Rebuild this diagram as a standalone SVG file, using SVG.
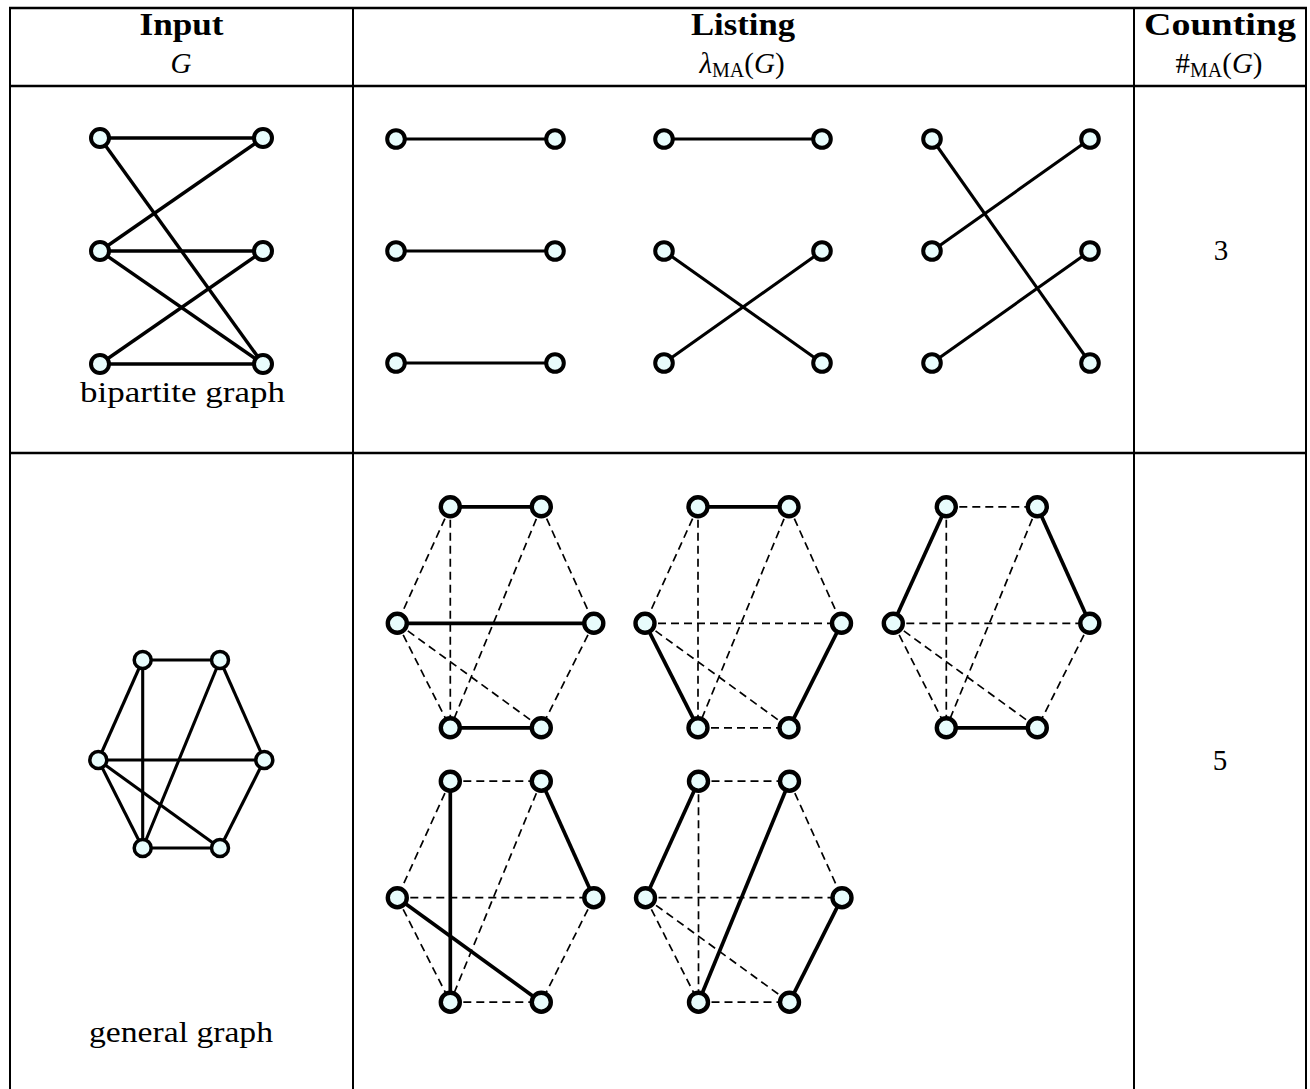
<svg xmlns="http://www.w3.org/2000/svg" width="1310" height="1089" viewBox="0 0 1310 1089">
  <style>
    .rule { stroke: #000; stroke-width: 2; }
    .hrule { stroke: #000; stroke-width: 2.6; }
    .hd { font-family: "Liberation Serif", "Times New Roman", serif; font-size: 31px; font-weight: bold; fill: #000; }
    .tx { font-family: "Liberation Serif", "Times New Roman", serif; font-size: 29px; fill: #000; }
    .it { font-style: italic; }
    .sub { font-size: 20px; font-style: normal; }
    .node { fill: #e8fcfc; stroke: #000; }
    .bn { stroke-width: 4; }
    .ln { stroke-width: 4; }
    .hn { stroke-width: 3.5; }
    .xn { stroke-width: 4.4; }
    .e { stroke: #000; fill: none; stroke-linecap: butt; }
    .eb { stroke-width: 3.4; }
    .el { stroke-width: 3.1; }
    .eh { stroke-width: 3.1; }
    .es { stroke-width: 3.7; }
    .d { stroke: #000; stroke-width: 1.7; stroke-dasharray: 8 5; fill: none; }
  </style>

  <!-- table frame -->
  <g id="table">
    <line class="hrule" x1="9" y1="8" x2="1307" y2="8"/>
    <line class="hrule" x1="9" y1="86" x2="1307" y2="86"/>
    <line class="hrule" x1="9" y1="453" x2="1307" y2="453" stroke-width="3"/>
    <line class="rule" x1="10" y1="7" x2="10" y2="1089"/>
    <line class="rule" x1="353" y1="7" x2="353" y2="1089"/>
    <line class="rule" x1="1134" y1="7" x2="1134" y2="1089"/>
    <line class="rule" x1="1306" y1="7" x2="1306" y2="1089"/>
  </g>

  <!-- column headers -->
  <g id="headers">
    <text class="hd" x="181.5" y="35" text-anchor="middle" textLength="84" lengthAdjust="spacingAndGlyphs">Input</text>
    <text class="tx it" x="181" y="73" text-anchor="middle">G</text>
    <text class="hd" x="743" y="35" text-anchor="middle" textLength="104" lengthAdjust="spacingAndGlyphs">Listing</text>
    <text class="tx" x="742" y="73" text-anchor="middle"><tspan class="it">λ</tspan><tspan class="sub" dy="4">MA</tspan><tspan dy="-4">(</tspan><tspan class="it">G</tspan>)</text>
    <text class="hd" x="1220" y="35" text-anchor="middle" textLength="152" lengthAdjust="spacingAndGlyphs">Counting</text>
    <text class="tx" x="1219" y="73" text-anchor="middle">#<tspan class="sub" dy="4">MA</tspan><tspan dy="-4">(</tspan><tspan class="it">G</tspan>)</text>
  </g>

  <!-- row 1: bipartite input graph -->
  <g id="bipartite-input">
    <g id="bipartite-input-edges">
      <line class="e eb" x1="100" y1="138" x2="263" y2="138"/>
      <line class="e eb" x1="100" y1="138" x2="263" y2="364"/>
      <line class="e eb" x1="100" y1="251" x2="263" y2="138"/>
      <line class="e eb" x1="100" y1="251" x2="263" y2="251"/>
      <line class="e eb" x1="100" y1="251" x2="263" y2="364"/>
      <line class="e eb" x1="100" y1="364" x2="263" y2="251"/>
      <line class="e eb" x1="100" y1="364" x2="263" y2="364"/>
    </g>
    <g id="bi-l1"><circle class="node bn" cx="100" cy="138" r="9"/></g>
    <g id="bi-l2"><circle class="node bn" cx="100" cy="251" r="9"/></g>
    <g id="bi-l3"><circle class="node bn" cx="100" cy="364" r="9"/></g>
    <g id="bi-r1"><circle class="node bn" cx="263" cy="138" r="9"/></g>
    <g id="bi-r2"><circle class="node bn" cx="263" cy="251" r="9"/></g>
    <g id="bi-r3"><circle class="node bn" cx="263" cy="364" r="9"/></g>
    <text class="tx" x="182.5" y="402" text-anchor="middle" textLength="205" lengthAdjust="spacingAndGlyphs">bipartite graph</text>
  </g>

  <!-- row 1: perfect matchings of the bipartite graph -->
  <g id="bm1">
    <g id="bm1-edges">
      <line class="e el" x1="396" y1="139" x2="555" y2="139"/>
      <line class="e el" x1="396" y1="251" x2="555" y2="251"/>
      <line class="e el" x1="396" y1="363" x2="555" y2="363"/>
    </g>
    <g id="bm1-l1"><circle class="node ln" cx="396" cy="139" r="8.8"/></g>
    <g id="bm1-l2"><circle class="node ln" cx="396" cy="251" r="8.8"/></g>
    <g id="bm1-l3"><circle class="node ln" cx="396" cy="363" r="8.8"/></g>
    <g id="bm1-r1"><circle class="node ln" cx="555" cy="139" r="8.8"/></g>
    <g id="bm1-r2"><circle class="node ln" cx="555" cy="251" r="8.8"/></g>
    <g id="bm1-r3"><circle class="node ln" cx="555" cy="363" r="8.8"/></g>
  </g>
  <g id="bm2">
    <g id="bm2-edges">
      <line class="e el" x1="664" y1="139" x2="822" y2="139"/>
      <line class="e el" x1="664" y1="251" x2="822" y2="363"/>
      <line class="e el" x1="664" y1="363" x2="822" y2="251"/>
    </g>
    <g id="bm2-l1"><circle class="node ln" cx="664" cy="139" r="8.8"/></g>
    <g id="bm2-l2"><circle class="node ln" cx="664" cy="251" r="8.8"/></g>
    <g id="bm2-l3"><circle class="node ln" cx="664" cy="363" r="8.8"/></g>
    <g id="bm2-r1"><circle class="node ln" cx="822" cy="139" r="8.8"/></g>
    <g id="bm2-r2"><circle class="node ln" cx="822" cy="251" r="8.8"/></g>
    <g id="bm2-r3"><circle class="node ln" cx="822" cy="363" r="8.8"/></g>
  </g>
  <g id="bm3">
    <g id="bm3-edges">
      <line class="e el" x1="932" y1="139" x2="1090" y2="363"/>
      <line class="e el" x1="932" y1="251" x2="1090" y2="139"/>
      <line class="e el" x1="932" y1="363" x2="1090" y2="251"/>
    </g>
    <g id="bm3-l1"><circle class="node ln" cx="932" cy="139" r="8.8"/></g>
    <g id="bm3-l2"><circle class="node ln" cx="932" cy="251" r="8.8"/></g>
    <g id="bm3-l3"><circle class="node ln" cx="932" cy="363" r="8.8"/></g>
    <g id="bm3-r1"><circle class="node ln" cx="1090" cy="139" r="8.8"/></g>
    <g id="bm3-r2"><circle class="node ln" cx="1090" cy="251" r="8.8"/></g>
    <g id="bm3-r3"><circle class="node ln" cx="1090" cy="363" r="8.8"/></g>
  </g>
  <text class="tx" x="1221" y="260" text-anchor="middle">3</text>

  <!-- row 2: general input graph -->
  <g id="general-input">
    <g id="general-input-edges">
      <line class="e eh" x1="142.7" y1="660" x2="220" y2="660"/>
      <line class="e eh" x1="142.7" y1="660" x2="98.3" y2="760"/>
      <line class="e eh" x1="142.7" y1="660" x2="142.7" y2="848"/>
      <line class="e eh" x1="220" y1="660" x2="264.3" y2="760"/>
      <line class="e eh" x1="220" y1="660" x2="142.7" y2="848"/>
      <line class="e eh" x1="98.3" y1="760" x2="264.3" y2="760"/>
      <line class="e eh" x1="98.3" y1="760" x2="142.7" y2="848"/>
      <line class="e eh" x1="98.3" y1="760" x2="220" y2="848"/>
      <line class="e eh" x1="264.3" y1="760" x2="220" y2="848"/>
      <line class="e eh" x1="142.7" y1="848" x2="220" y2="848"/>
    </g>
    <g id="gi-tl"><circle class="node hn" cx="142.7" cy="660" r="8.5"/></g>
    <g id="gi-tr"><circle class="node hn" cx="220" cy="660" r="8.5"/></g>
    <g id="gi-l"><circle class="node hn" cx="98.3" cy="760" r="8.5"/></g>
    <g id="gi-r"><circle class="node hn" cx="264.3" cy="760" r="8.5"/></g>
    <g id="gi-bl"><circle class="node hn" cx="142.7" cy="848" r="8.5"/></g>
    <g id="gi-br"><circle class="node hn" cx="220" cy="848" r="8.5"/></g>
    <text class="tx" x="181" y="1042" text-anchor="middle" textLength="184" lengthAdjust="spacingAndGlyphs">general graph</text>
  </g>

  <!-- row 2: perfect matchings; local frame origin at the left vertex
       L(0,0) TL(53,-116.5) TR(144,-116.5) R(196.5,0) BL(53,104.5) BR(144,104.5) -->
  <g id="gm1" transform="translate(397.3 623.3)">
    <g id="gm1-edges">
      <line class="d" x1="53" y1="-116.5" x2="0" y2="0"/>
      <line class="d" x1="53" y1="-116.5" x2="53" y2="104.5"/>
      <line class="d" x1="144" y1="-116.5" x2="53" y2="104.5"/>
      <line class="d" x1="144" y1="-116.5" x2="196.5" y2="0"/>
      <line class="d" x1="0" y1="0" x2="53" y2="104.5"/>
      <line class="d" x1="0" y1="0" x2="144" y2="104.5"/>
      <line class="d" x1="196.5" y1="0" x2="144" y2="104.5"/>
      <line class="e es" x1="53" y1="-116.5" x2="144" y2="-116.5"/>
      <line class="e es" x1="0" y1="0" x2="196.5" y2="0"/>
      <line class="e es" x1="53" y1="104.5" x2="144" y2="104.5"/>
    </g>
    <g id="gm1-tl"><circle class="node xn" cx="53" cy="-116.5" r="9.5"/></g>
    <g id="gm1-tr"><circle class="node xn" cx="144" cy="-116.5" r="9.5"/></g>
    <g id="gm1-l"><circle class="node xn" cx="0" cy="0" r="9.5"/></g>
    <g id="gm1-r"><circle class="node xn" cx="196.5" cy="0" r="9.5"/></g>
    <g id="gm1-bl"><circle class="node xn" cx="53" cy="104.5" r="9.5"/></g>
    <g id="gm1-br"><circle class="node xn" cx="144" cy="104.5" r="9.5"/></g>
  </g>

  <g id="gm2" transform="translate(645 623.3)">
    <g id="gm2-edges">
      <line class="d" x1="53" y1="-116.5" x2="0" y2="0"/>
      <line class="d" x1="53" y1="-116.5" x2="53" y2="104.5"/>
      <line class="d" x1="144" y1="-116.5" x2="196.5" y2="0"/>
      <line class="d" x1="144" y1="-116.5" x2="53" y2="104.5"/>
      <line class="d" x1="0" y1="0" x2="196.5" y2="0"/>
      <line class="d" x1="0" y1="0" x2="144" y2="104.5"/>
      <line class="d" x1="53" y1="104.5" x2="144" y2="104.5"/>
      <line class="e es" x1="53" y1="-116.5" x2="144" y2="-116.5"/>
      <line class="e es" x1="0" y1="0" x2="53" y2="104.5"/>
      <line class="e es" x1="196.5" y1="0" x2="144" y2="104.5"/>
    </g>
    <g id="gm2-tl"><circle class="node xn" cx="53" cy="-116.5" r="9.5"/></g>
    <g id="gm2-tr"><circle class="node xn" cx="144" cy="-116.5" r="9.5"/></g>
    <g id="gm2-l"><circle class="node xn" cx="0" cy="0" r="9.5"/></g>
    <g id="gm2-r"><circle class="node xn" cx="196.5" cy="0" r="9.5"/></g>
    <g id="gm2-bl"><circle class="node xn" cx="53" cy="104.5" r="9.5"/></g>
    <g id="gm2-br"><circle class="node xn" cx="144" cy="104.5" r="9.5"/></g>
  </g>

  <g id="gm3" transform="translate(893.3 623.3)">
    <g id="gm3-edges">
      <line class="d" x1="53" y1="-116.5" x2="144" y2="-116.5"/>
      <line class="d" x1="53" y1="-116.5" x2="53" y2="104.5"/>
      <line class="d" x1="144" y1="-116.5" x2="53" y2="104.5"/>
      <line class="d" x1="0" y1="0" x2="196.5" y2="0"/>
      <line class="d" x1="0" y1="0" x2="53" y2="104.5"/>
      <line class="d" x1="0" y1="0" x2="144" y2="104.5"/>
      <line class="d" x1="196.5" y1="0" x2="144" y2="104.5"/>
      <line class="e es" x1="53" y1="-116.5" x2="0" y2="0"/>
      <line class="e es" x1="144" y1="-116.5" x2="196.5" y2="0"/>
      <line class="e es" x1="53" y1="104.5" x2="144" y2="104.5"/>
    </g>
    <g id="gm3-tl"><circle class="node xn" cx="53" cy="-116.5" r="9.5"/></g>
    <g id="gm3-tr"><circle class="node xn" cx="144" cy="-116.5" r="9.5"/></g>
    <g id="gm3-l"><circle class="node xn" cx="0" cy="0" r="9.5"/></g>
    <g id="gm3-r"><circle class="node xn" cx="196.5" cy="0" r="9.5"/></g>
    <g id="gm3-bl"><circle class="node xn" cx="53" cy="104.5" r="9.5"/></g>
    <g id="gm3-br"><circle class="node xn" cx="144" cy="104.5" r="9.5"/></g>
  </g>

  <g id="gm4" transform="translate(397.3 897.7)">
    <g id="gm4-edges">
      <line class="d" x1="53" y1="-116.5" x2="144" y2="-116.5"/>
      <line class="d" x1="53" y1="-116.5" x2="0" y2="0"/>
      <line class="d" x1="144" y1="-116.5" x2="53" y2="104.5"/>
      <line class="d" x1="0" y1="0" x2="196.5" y2="0"/>
      <line class="d" x1="0" y1="0" x2="53" y2="104.5"/>
      <line class="d" x1="196.5" y1="0" x2="144" y2="104.5"/>
      <line class="d" x1="53" y1="104.5" x2="144" y2="104.5"/>
      <line class="e es" x1="53" y1="-116.5" x2="53" y2="104.5"/>
      <line class="e es" x1="144" y1="-116.5" x2="196.5" y2="0"/>
      <line class="e es" x1="0" y1="0" x2="144" y2="104.5"/>
    </g>
    <g id="gm4-tl"><circle class="node xn" cx="53" cy="-116.5" r="9.5"/></g>
    <g id="gm4-tr"><circle class="node xn" cx="144" cy="-116.5" r="9.5"/></g>
    <g id="gm4-l"><circle class="node xn" cx="0" cy="0" r="9.5"/></g>
    <g id="gm4-r"><circle class="node xn" cx="196.5" cy="0" r="9.5"/></g>
    <g id="gm4-bl"><circle class="node xn" cx="53" cy="104.5" r="9.5"/></g>
    <g id="gm4-br"><circle class="node xn" cx="144" cy="104.5" r="9.5"/></g>
  </g>

  <g id="gm5" transform="translate(645.5 897.7)">
    <g id="gm5-edges">
      <line class="d" x1="53" y1="-116.5" x2="144" y2="-116.5"/>
      <line class="d" x1="53" y1="-116.5" x2="53" y2="104.5"/>
      <line class="d" x1="144" y1="-116.5" x2="196.5" y2="0"/>
      <line class="d" x1="0" y1="0" x2="196.5" y2="0"/>
      <line class="d" x1="0" y1="0" x2="53" y2="104.5"/>
      <line class="d" x1="0" y1="0" x2="144" y2="104.5"/>
      <line class="d" x1="53" y1="104.5" x2="144" y2="104.5"/>
      <line class="e es" x1="53" y1="-116.5" x2="0" y2="0"/>
      <line class="e es" x1="144" y1="-116.5" x2="53" y2="104.5"/>
      <line class="e es" x1="196.5" y1="0" x2="144" y2="104.5"/>
    </g>
    <g id="gm5-tl"><circle class="node xn" cx="53" cy="-116.5" r="9.5"/></g>
    <g id="gm5-tr"><circle class="node xn" cx="144" cy="-116.5" r="9.5"/></g>
    <g id="gm5-l"><circle class="node xn" cx="0" cy="0" r="9.5"/></g>
    <g id="gm5-r"><circle class="node xn" cx="196.5" cy="0" r="9.5"/></g>
    <g id="gm5-bl"><circle class="node xn" cx="53" cy="104.5" r="9.5"/></g>
    <g id="gm5-br"><circle class="node xn" cx="144" cy="104.5" r="9.5"/></g>
  </g>
  <text class="tx" x="1220" y="770" text-anchor="middle">5</text>
</svg>
